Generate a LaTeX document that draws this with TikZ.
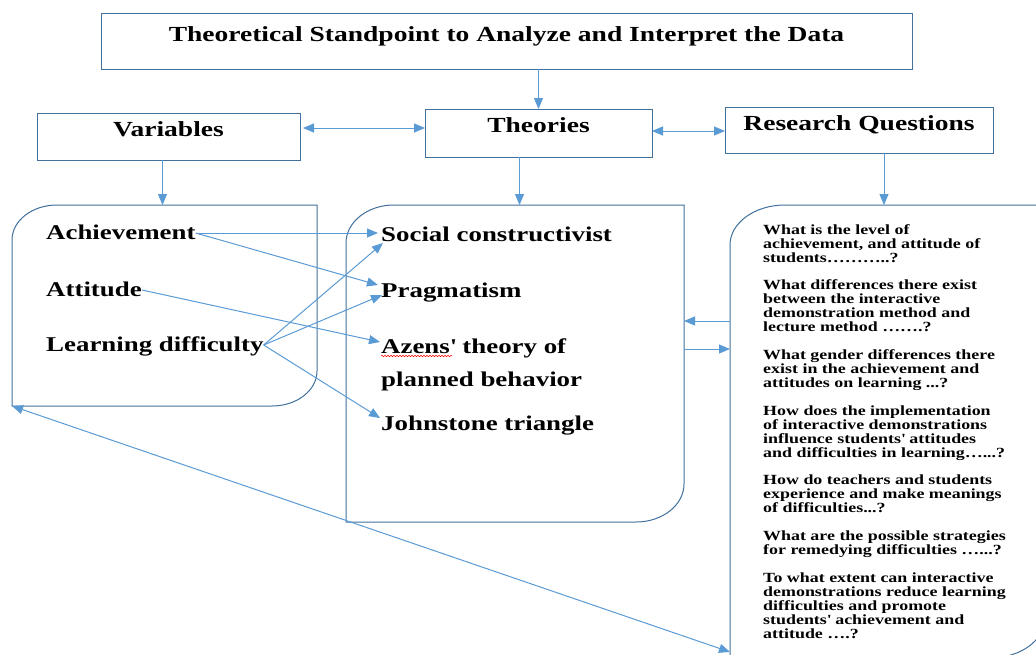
\documentclass[tikz,border=0pt]{standalone}
\usepackage{fontspec}
\setmainfont{Liberation Serif}[FakeStretch=1.28]
\usetikzlibrary{arrows.meta,calc,decorations.pathmorphing}
\definecolor{boxc}{HTML}{41719C}
\definecolor{arrc}{HTML}{5B9BD5}
\newcommand\sq{\textquotesingle}
\tikzset{
  hbox/.style={draw=boxc, line width=1pt, inner sep=0pt, outer sep=0pt, anchor=north west},
  area/.style={draw=none, inner sep=0pt, outer sep=0pt, anchor=north west},
  boxline/.style={draw=boxc, line width=1pt},
  tip/.tip={Triangle[length=11pt,width=9pt]},
  arr/.style={draw=arrc, line width=1pt, -tip},
  darr/.style={draw=arrc, line width=1pt, tip-tip},
  head/.style={font=\fontsize{21.5}{24}\selectfont\bfseries, inner sep=0pt, anchor=base},
  item/.style={font=\fontsize{21}{33}\selectfont\bfseries, inner sep=0pt, anchor=base west, align=left},
  qtext/.style={font=\fontsize{14}{14}\selectfont\bfseries, inner sep=0pt, anchor=base west, align=left},
}
\newcommand\roundbox[3]{% node, x radius, y radius
  \draw[boxline] (#1.south west) -- ([yshift=-#3]#1.north west)
    arc[start angle=180, end angle=90, x radius=#2, y radius=#3]
    -- (#1.north east) -- ([yshift=#3]#1.south east)
    arc[start angle=0, end angle=-90, x radius=#2, y radius=#3] -- cycle;}
\begin{document}
\begin{tikzpicture}[x=1pt,y=-1pt]
\useasboundingbox (0,0) rectangle (1036,654);
\fill[white] (0,0) rectangle (1036,654);
\clip (0,0) rectangle (1036,654);

% header boxes
\node[hbox, minimum width=811pt, minimum height=56pt] (title) at (101,13) {};
\node[hbox, minimum width=263pt, minimum height=47pt] (var) at (37,113) {};
\node[hbox, minimum width=227pt, minimum height=48pt] (th) at (425,109) {};
\node[hbox, minimum width=268pt, minimum height=46pt] (rq) at (725,107) {};

\node[head] (titletext) at (title.center |- 0,41) {Theoretical Standpoint to Analyze and Interpret the Data};
\node[head] (vartext) at (var.center |- 0,136) {Variables};
\node[head] (thtext) at (th.center |- 0,132) {Theories};
\node[head] (rqtext) at (rq.center |- 0,130) {Research Questions};

% rounded content boxes
\node[area, minimum width=305pt, minimum height=201pt] (varbox) at (12,205) {};
\node[area, minimum width=338pt, minimum height=317pt] (thbox) at (346,205) {};
\node[area, minimum width=315pt, minimum height=453pt] (rqbox) at (730,205) {};
\roundbox{varbox}{45pt}{35pt}
\roundbox{thbox}{48pt}{38pt}
\roundbox{rqbox}{55pt}{40pt}

% items
\node[item] (ach) at (46,239) {Achievement};
\node[item] (att) at (46,296) {Attitude};
\node[item] (ld) at (46,351) {Learning difficulty};

\node[item] (soc) at (381,241) {Social constructivist};
\node[item] (prag) at (381,297) {Pragmatism};
\node[item] (azens) at (381,386) {Azens\sq{} theory of\\planned behavior};
\node[item] (john) at (381,430) {Johnstone triangle};
\draw[red, line width=0.5pt, decorate, decoration={snake, amplitude=0.8pt, segment length=3pt}]
  ([yshift=30pt]azens.base west) -- ([xshift=71pt,yshift=30pt]azens.base west);

% research questions (each node anchored at the baseline of its last line)
\node[qtext] (q1) at (763,262.5) {What is the level of\\
achievement, and attitude of\\
students\dots\dots\dots..?};
\node[qtext] (q2) at (763,331.5) {What differences there exist\\
between the interactive\\
demonstration method and\\
lecture method \dots\dots.?};
\node[qtext] (q3) at (763,387.5) {What gender differences there\\
exist in the achievement and\\
attitudes on learning ...?};
\node[qtext] (q4) at (763,457) {How does the implementation\\
of interactive demonstrations\\
influence students\sq{} attitudes\\
and difficulties in learning\dots...?};
\node[qtext] (q5) at (763,512) {How do teachers and students\\
experience and make meanings\\
of difficulties...?};
\node[qtext] (q6) at (763,554) {What are the possible strategies\\
for remedying difficulties \dots...?};
\node[qtext] (q7) at (763,638) {To what extent can interactive\\
demonstrations reduce learning\\
difficulties and promote\\
students\sq{} achievement and\\
attitude \dots.?};

% connectors between header boxes
\draw[arr] (th.north |- title.south) -- (th.north);
\draw[darr] ([xshift=3pt]var.east |- 0,128) -- (th.west |- 0,128);
\draw[darr] (th.east |- 0,131) -- (rq.west |- 0,131);

\coordinate (va) at ([xshift=-6pt]var.south);
\coordinate (ta) at ([xshift=-19pt]th.south);
\coordinate (ra) at ([xshift=25pt]rq.south);
\draw[arr] (va) -- (va |- varbox.north);
\draw[arr] (ta) -- (ta |- thbox.north);
\draw[arr] (ra) -- (ra |- rqbox.north);

% between theory box and question box
\draw[arr] (rqbox.west |- 0,321) -- (thbox.east |- 0,321);
\draw[arr] (thbox.east |- 0,349) -- (rqbox.west |- 0,349);

% item connectors
\draw[arr] ([yshift=6pt]ach.base east) -- ([xshift=-3pt,yshift=8pt]soc.base west);
\draw[arr] ([yshift=6pt]ach.base east) -- ([xshift=-3pt,yshift=12pt]prag.base west);
\draw[arr] ([yshift=6pt]att.base east) -- ([xshift=-1pt,yshift=44pt]azens.base west);
\draw[arr] ([yshift=6pt]ld.base east) -- ([xshift=2pt,yshift=-2pt]soc.base west);
\draw[arr] ([yshift=6pt]ld.base east) -- ([xshift=1pt,yshift=2pt]prag.base west);
\draw[arr] ([yshift=6pt]ld.base east) -- ([xshift=-1pt,yshift=12pt]john.base west);

% long diagonal
\draw[darr] (varbox.south west) -- (rqbox.west |- 0,652);
\end{tikzpicture}
\end{document}
